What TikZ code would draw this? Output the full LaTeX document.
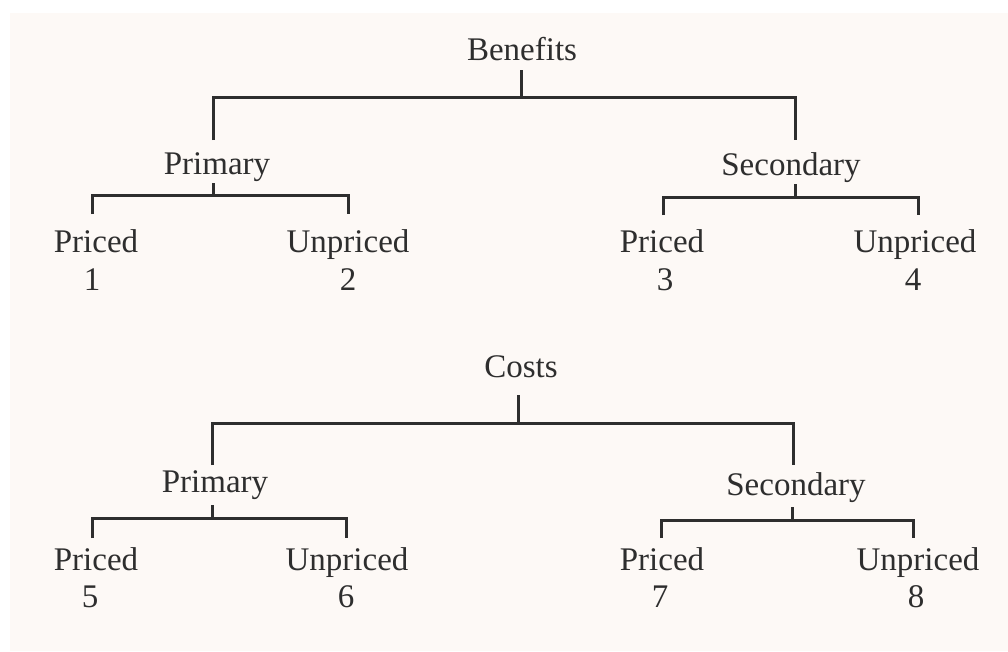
\documentclass[tikz,border=0pt]{standalone}
\usepackage{fontspec}
\setmainfont{Liberation Serif}
\definecolor{bg}{HTML}{FDF9F6}
\definecolor{ink}{HTML}{2E2E2E}
\begin{document}
\begin{tikzpicture}[x=1pt,y=-1pt,
  lbl/.style={anchor=base,inner sep=0pt,text=ink,font=\fontsize{33}{40}\selectfont},
  brk/.style={draw=ink,line width=3pt,line join=miter}]
\useasboundingbox (0,0) rectangle (1008,651);
\fill[white] (0,0) rectangle (1008,651);
\fill[bg] (10,13) rectangle (1008,651);

% ---------- Benefits tree ----------
\node[lbl] (ben) at (522,60) {Benefits};
\node[lbl] (bpri) at (217,174) {Primary};
\node[lbl] (bsec) at (791,175) {Secondary};
\node[lbl] (bp1) at (96,252) {Priced};
\node[lbl] (bn1) at (92,290) {1};
\node[lbl] (bu2) at (348,252) {Unpriced};
\node[lbl] (bn2) at (348,290) {2};
\node[lbl] (bp3) at (662,252) {Priced};
\node[lbl] (bn3) at (665,290) {3};
\node[lbl] (bu4) at (915,252) {Unpriced};
\node[lbl] (bn4) at (913,290) {4};

\coordinate (bs0) at (521,70);  \coordinate (bs1) at (521,97);
\coordinate (bL0) at (213,140); \coordinate (bL1) at (213,97);
\coordinate (bR1) at (795,97);  \coordinate (bR0) at (795,140);
\draw[brk] (bs0) -- (bs1);
\draw[brk] (bL0) -- (bL1) -- (bR1) -- (bR0);

\coordinate (pbs0) at (213,183); \coordinate (pbs1) at (213,195);
\coordinate (pbL0) at (92,214);  \coordinate (pbL1) at (92,195);
\coordinate (pbR1) at (348,195); \coordinate (pbR0) at (348,214);
\draw[brk] (pbs0) -- (pbs1);
\draw[brk] (pbL0) -- (pbL1) -- (pbR1) -- (pbR0);

\coordinate (sbs0) at (795,184); \coordinate (sbs1) at (795,197);
\coordinate (sbL0) at (663,215); \coordinate (sbL1) at (663,197);
\coordinate (sbR1) at (918,197); \coordinate (sbR0) at (918,215);
\draw[brk] (sbs0) -- (sbs1);
\draw[brk] (sbL0) -- (sbL1) -- (sbR1) -- (sbR0);

% ---------- Costs tree ----------
\node[lbl] (cos) at (521,377) {Costs};
\node[lbl] (cpri) at (215,492) {Primary};
\node[lbl] (csec) at (796,495) {Secondary};
\node[lbl] (cp5) at (96,570) {Priced};
\node[lbl] (cn5) at (90,607) {5};
\node[lbl] (cu6) at (347,570) {Unpriced};
\node[lbl] (cn6) at (346,607) {6};
\node[lbl] (cp7) at (662,570) {Priced};
\node[lbl] (cn7) at (660,607) {7};
\node[lbl] (cu8) at (918,570) {Unpriced};
\node[lbl] (cn8) at (916,607) {8};

\coordinate (cs0) at (518,395);  \coordinate (cs1) at (518,423);
\coordinate (cL0) at (212,465);  \coordinate (cL1) at (212,423);
\coordinate (cR1) at (793,423);  \coordinate (cR0) at (793,465);
\draw[brk] (cs0) -- (cs1);
\draw[brk] (cL0) -- (cL1) -- (cR1) -- (cR0);

\coordinate (pcs0) at (212,505); \coordinate (pcs1) at (212,518);
\coordinate (pcL0) at (92,538);  \coordinate (pcL1) at (92,518);
\coordinate (pcR1) at (346,518); \coordinate (pcR0) at (346,538);
\draw[brk] (pcs0) -- (pcs1);
\draw[brk] (pcL0) -- (pcL1) -- (pcR1) -- (pcR0);

\coordinate (scs0) at (792,507); \coordinate (scs1) at (792,520);
\coordinate (scL0) at (661,538); \coordinate (scL1) at (661,520);
\coordinate (scR1) at (913,520); \coordinate (scR0) at (913,538);
\draw[brk] (scs0) -- (scs1);
\draw[brk] (scL0) -- (scL1) -- (scR1) -- (scR0);
\end{tikzpicture}
\end{document}
